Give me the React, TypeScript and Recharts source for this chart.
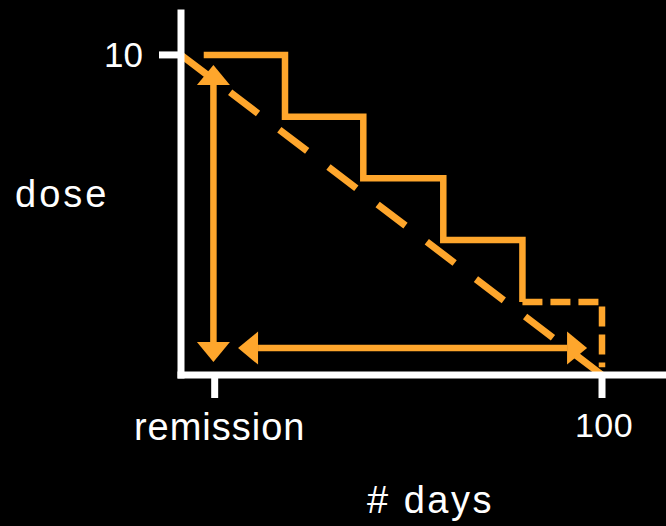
import { ComposedChart, Line, XAxis, YAxis, Label } from 'recharts';

const ORANGE = '#FEA62C';
const FONT = '"Liberation Sans", Arial, sans-serif';

// staircase taper, solid part (stepAfter)
const stepDays = [5.4, 24.7, 43.3, 62.3, 81.1];
const stepDose = [10, 8.07, 6.15, 4.22, 2.28];
// last step, dashed
const tailDays = [81.1, 100, 100];
const tailDose = [2.28, 2.28, 0.24];
// ideal linear taper
const taperDays = [0, 100];
const taperDose = [10, 0];
// vertical arrow at remission (head bases)
const vArrowDays = [7.7, 7.7];
const vArrowDose = [9.06, 1.03];
const vArrowDir = ['up', 'down'];
// horizontal arrow (head bases)
const hArrowDays = [18.3, 91.7];
const hArrowDose = [0.84, 0.84];
const hArrowDir = ['left', 'right'];

const xTicks = [8, 100];
const xTickLabels = ['remission', '100'];
const yTicks = [10];

const stepData = stepDays.map((x, i) => ({ x, y: stepDose[i] }));
const tailData = tailDays.map((x, i) => ({ x, y: tailDose[i] }));
const taperData = taperDays.map((x, i) => ({ x, y: taperDose[i] }));
const vArrowData = vArrowDays.map((x, i) => ({ x, y: vArrowDose[i], dir: vArrowDir[i] }));
const hArrowData = hArrowDays.map((x, i) => ({ x, y: hArrowDose[i], dir: hArrowDir[i] }));

const HEAD_LEN = 20;
const HEAD_HALF = 16.5;

const arrowHead = (props: any) => {
  const { cx, cy, payload, index } = props;
  const d = payload.dir;
  let pts: number[][];
  if (d === 'up') pts = [[cx, cy - HEAD_LEN], [cx - HEAD_HALF, cy], [cx + HEAD_HALF, cy]];
  else if (d === 'down') pts = [[cx, cy + HEAD_LEN], [cx - HEAD_HALF, cy], [cx + HEAD_HALF, cy]];
  else if (d === 'left') pts = [[cx - HEAD_LEN, cy], [cx, cy - HEAD_HALF], [cx, cy + HEAD_HALF]];
  else pts = [[cx + HEAD_LEN, cy], [cx, cy - HEAD_HALF], [cx, cy + HEAD_HALF]];
  return (
    <polygon
      key={`head-${d}-${index}`}
      points={pts.map((p) => p.join(',')).join(' ')}
      fill={ORANGE}
    />
  );
};

const renderXTick = (props: any) => {
  const { x, y, payload } = props;
  const i = xTicks.indexOf(payload.value);
  const word = i === 0;
  return (
    <text
      x={x + (word ? 5 : 2)}
      y={y}
      dy="0.71em"
      textAnchor="middle"
      fill="#fff"
      fontSize={word ? 38 : 34}
      fontFamily={FONT}
      letterSpacing={word ? 1 : 0.5}
    >
      {xTickLabels[i]}
    </text>
  );
};

export default function App() {
  return (
    <div style={{ position: 'absolute', left: 0, top: 0, width: 666, height: 526, background: '#000' }}>
      <ComposedChart width={666} height={526} margin={{ top: 13, right: 0, bottom: 0, left: 0 }}>
        <XAxis
          type="number"
          dataKey="x"
          domain={[0, 115.2]}
          ticks={xTicks}
          interval={0}
          height={151}
          axisLine={{ stroke: '#fff', strokeWidth: 7, strokeLinecap: 'square' }}
          tickLine={{ stroke: '#fff', strokeWidth: 7 }}
          tickSize={23}
          tickMargin={15}
          tick={renderXTick}
        >
          <Label
            value="# days"
            position="insideBottom"
            offset={13}
            dx={7}
            fill="#fff"
            fontSize={38}
            fontFamily={FONT}
            letterSpacing={2.5}
          />
        </XAxis>
        <YAxis
          type="number"
          dataKey="y"
          domain={[0, 11.31]}
          ticks={yTicks}
          interval={0}
          width={181}
          axisLine={{ stroke: '#fff', strokeWidth: 7, strokeLinecap: 'square' }}
          tickLine={{ stroke: '#fff', strokeWidth: 7 }}
          tickSize={22}
          tickMargin={16}
          tick={{ fill: '#fff', fontSize: 35, fontFamily: FONT }}
        >
          <Label
            value="dose"
            position="insideLeft"
            offset={15}
            fill="#fff"
            fontSize={38}
            fontFamily={FONT}
            letterSpacing={3}
          />
        </YAxis>
        <Line
          data={stepData}
          dataKey="y"
          type="stepAfter"
          stroke={ORANGE}
          strokeWidth={6.5}
          dot={false}
          activeDot={false}
          isAnimationActive={false}
        />
        <Line
          data={tailData}
          dataKey="y"
          type="linear"
          stroke={ORANGE}
          strokeWidth={6.5}
          strokeDasharray="20 8"
          dot={false}
          activeDot={false}
          isAnimationActive={false}
        />
        <Line
          data={taperData}
          dataKey="y"
          type="linear"
          stroke={ORANGE}
          strokeWidth={7}
          strokeDasharray="35 26.75"
          dot={false}
          activeDot={false}
          isAnimationActive={false}
        />
        <Line
          data={vArrowData}
          dataKey="y"
          type="linear"
          stroke={ORANGE}
          strokeWidth={6.5}
          dot={arrowHead}
          activeDot={false}
          isAnimationActive={false}
        />
        <Line
          data={hArrowData}
          dataKey="y"
          type="linear"
          stroke={ORANGE}
          strokeWidth={6.5}
          dot={arrowHead}
          activeDot={false}
          isAnimationActive={false}
        />
      </ComposedChart>
    </div>
  );
}
